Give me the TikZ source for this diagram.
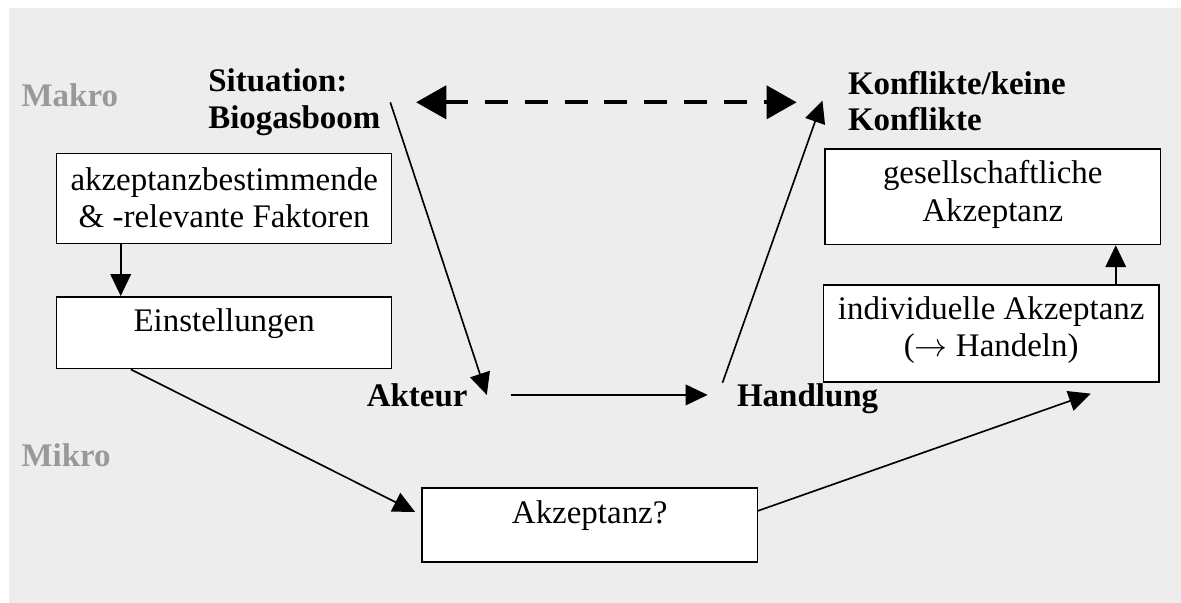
\documentclass[tikz,border=0pt]{standalone}
\usepackage{fontspec}
\setmainfont{Liberation Serif}
\usetikzlibrary{arrows.meta}

\definecolor{hinterg}{HTML}{EDEDED}
\definecolor{ebene}{HTML}{999999}

\tikzset{
  kasten/.style={draw=black, line width=0.55pt, fill=white, inner sep=0pt,
    minimum width=4.29cm, align=center},
  marke/.style={inner sep=0pt, font=\fontsize{12pt}{13.2pt}\selectfont\bfseries, align=left},
  ebenentext/.style={marke, text=ebene},
  pfeil/.style={line width=0.6pt, -{Triangle[length=8pt,width=7.5pt]}},
  dpfeil/.style={line width=1.6pt, dash pattern=on 8.4pt off 6.1pt,
    {Triangle[length=11pt,width=12pt]}-{Triangle[length=11pt,width=12pt]}}
}

\begin{document}
\begin{tikzpicture}[font=\fontsize{12pt}{13.5pt}\selectfont]
  \useasboundingbox (0,0) rectangle (15.12,7.72);
  \fill[hinterg] (0.12,0) rectangle (15.12,7.62);

  % Ebenen
  \node[ebenentext, anchor=base west] (makro) at (0.27, 6.36) {Makro};
  \node[ebenentext, anchor=base west] (mikro) at (0.27, 1.75) {Mikro};

  \node[marke, anchor=west] (sit) at (2.66, 6.41) {Situation:\\Biogasboom};
  \node[marke, anchor=west] (konf) at (10.85, 6.43) {Konflikte/keine\\Konflikte};
  \node[marke, anchor=base west] (akteur) at (4.69, 2.52) {Akteur};
  \node[marke, anchor=base west] (handl) at (9.43, 2.52) {Handlung};

  % Kaesten
  \node[kasten, text height=0.95cm, text depth=0.2cm] (fakt) at (2.87, 5.18) {akzeptanzbestimmende\\\& -relevante Faktoren};
  \node[kasten, text height=0.45cm, text depth=0.47cm] (einst) at (2.87, 3.46) {Einstellungen};
  \node[kasten, text height=0.92cm, text depth=0.3cm] (gesell) at (12.71, 5.20) {gesellschaftliche\\Akzeptanz};
  \node[kasten, text height=0.92cm, text depth=0.32cm] (indiv) at (12.69, 3.45) {individuelle Akzeptanz\\($\rightarrow$ Handeln)};
  \node[kasten, text height=0.46cm, text depth=0.49cm] (akz) at (7.55, 1.00) {Akzeptanz?};

  \draw[dpfeil] ([xshift=0.45cm]sit.east) -- ([xshift=-0.65cm]konf.west |- sit.east);
  \draw[pfeil] ([xshift=0.12cm]sit.east) -- ([xshift=0.24cm]akteur.east);
  \draw[pfeil] ([xshift=0.55cm]akteur.east) -- ([xshift=-0.37cm]handl.west |- akteur.east);
  \draw[pfeil] ([xshift=-0.18cm]handl.north west) -- ([xshift=-0.32cm]konf.west);
  \draw[pfeil] ([xshift=0.83cm]fakt.south west) -- ([xshift=0.83cm]fakt.south west |- einst.north);
  \draw[pfeil] ([xshift=-0.56cm]indiv.north east) -- ([xshift=-0.56cm]indiv.north east |- gesell.south);
  \draw[pfeil] ([xshift=0.96cm]einst.south west) -- ([xshift=-0.08cm,yshift=-0.32cm]akz.north west);
  \draw[pfeil] ([yshift=0.18cm]akz.east) -- ([xshift=-0.88cm,yshift=-0.14cm]indiv.south east);
\end{tikzpicture}
\end{document}
